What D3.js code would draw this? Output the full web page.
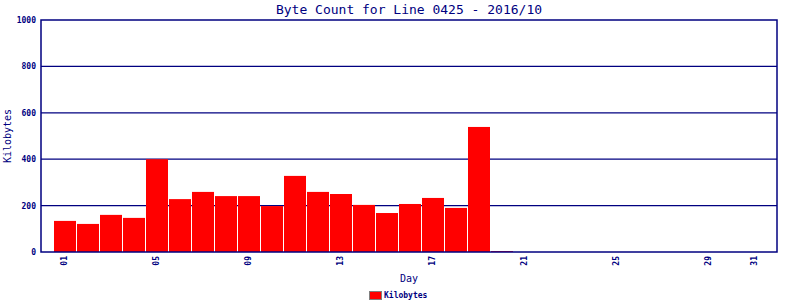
<!DOCTYPE html>
<html>
<head>
<meta charset="utf-8">
<script src="https://cdn.jsdelivr.net/npm/d3@7"></script>
<style>
body { margin: 0; background: #fff; }
text { font-family: "DejaVu Sans Mono", monospace; fill: #000080; }
</style>
</head>
<body>
<div id="chart"></div>
<script>
var days = d3.range(1, 32)
var kilobytes = [134, 121, 160, 147, 400, 228, 259, 241, 241, 198, 328, 259, 250, 203, 168, 207, 233, 190, 539, 4,
  0, 0, 0, 0, 0, 0, 0, 0, 0, 0, 0]
var dayTicks = [1, 5, 9, 13, 17, 21, 25, 29, 31]
var yTicks = [0, 200, 400, 600, 800, 1000]

var navy = "#000080"
var plotLeft = 41, plotRight = 777, plotTop = 20, plotBottom = 252

var svg = d3.select("#chart")
    .append("svg")
    .attr("width", 800)
    .attr("height", 300)

// one slot per day, half a slot of padding at each end
var x = d3.scaleLinear()
    .domain([0, 32])
    .range([plotLeft, plotRight])

var y = d3.scaleLinear()
    .domain([0, 1000])
    .range([plotBottom, plotTop])

// grid lines
svg.selectAll(".grid")
    .data(yTicks.filter(d => d > 0 && d < 1000))
    .enter()
    .append("line")
    .attr("x1", plotLeft)
    .attr("x2", plotRight)
    .attr("y1", d => y(d))
    .attr("y2", d => y(d))
    .style("stroke", navy)
    .style("stroke-width", 1.2)

// bars
svg.selectAll(".bar")
    .data(days)
    .enter()
    .append("rect")
    .attr("x", d => x(d) - 10)
    .attr("width", 22)
    .attr("y", (d, i) => y(kilobytes[i]))
    .attr("height", (d, i) => plotBottom - y(kilobytes[i]))
    .style("fill", "#ff0000")

// frame
svg.append("rect")
    .attr("x", plotLeft)
    .attr("y", plotTop)
    .attr("width", plotRight - plotLeft)
    .attr("height", plotBottom - plotTop)
    .style("fill", "none")
    .style("stroke", navy)
    .style("stroke-width", 1.5)

// y tick labels
svg.selectAll(".ylab")
    .data(yTicks)
    .enter()
    .append("text")
    .attr("x", 36)
    .attr("y", d => y(d) + 3)
    .attr("text-anchor", "end")
    .style("font-size", "8px")
    .style("font-weight", "bold")
    .text(d => d)

// x tick labels
svg.selectAll(".xlab")
    .data(dayTicks)
    .enter()
    .append("text")
    .attr("transform", d => "translate(" + (x(d) + 3) + "," + (plotBottom + 4) + ") rotate(-90)")
    .attr("text-anchor", "end")
    .style("font-size", "8px")
    .style("font-weight", "bold")
    .text(d => d3.format("02d")(d))

// titles
svg.append("text")
    .attr("x", 409)
    .attr("y", 14)
    .attr("text-anchor", "middle")
    .style("font-size", "13px")
    .text("Byte Count for Line 0425 - 2016/10")

svg.append("text")
    .attr("x", 409)
    .attr("y", 282)
    .attr("text-anchor", "middle")
    .style("font-size", "10px")
    .text("Day")

svg.append("text")
    .attr("transform", "translate(11," + ((plotTop + plotBottom) / 2) + ") rotate(-90)")
    .attr("text-anchor", "middle")
    .style("font-size", "10px")
    .text("Kilobytes")

// legend
svg.append("rect")
    .attr("x", 369.5)
    .attr("y", 291.5)
    .attr("width", 12)
    .attr("height", 8)
    .style("fill", "#ff0000")
    .style("stroke", "#808080")

svg.append("text")
    .attr("x", 384)
    .attr("y", 298)
    .style("font-size", "8px")
    .style("font-weight", "bold")
    .text("Kilobytes")
</script>
</body>
</html>
